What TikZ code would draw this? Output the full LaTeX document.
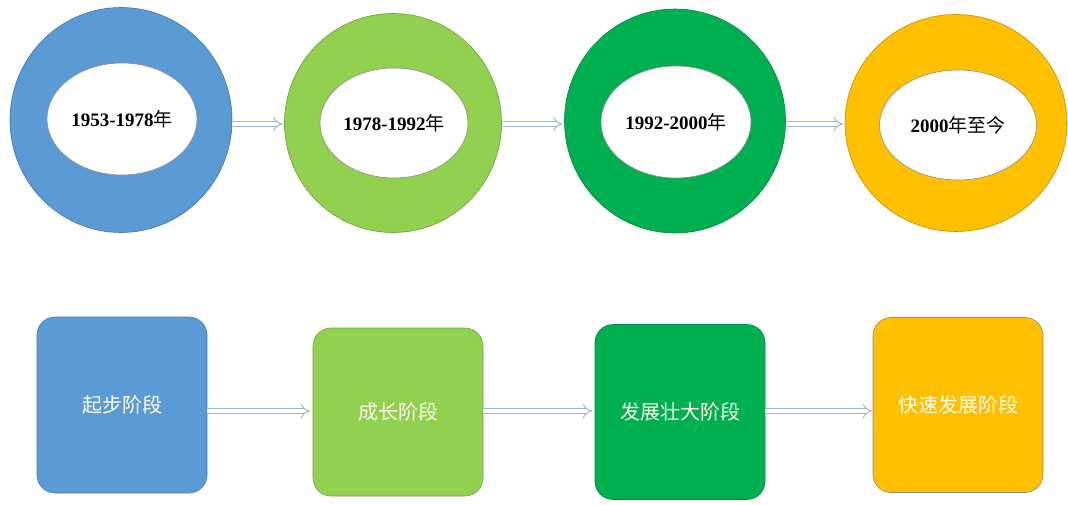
\documentclass[tikz,border=0pt]{standalone}
\usepackage{fontspec}
\setmainfont{Liberation Serif}
\newfontfamily\cjk{Noto Sans CJK SC}
\usetikzlibrary{shapes.geometric,arrows.meta}
\definecolor{cblue}{HTML}{5B9BD5}
\definecolor{clgreen}{HTML}{92D050}
\definecolor{cgreen}{HTML}{00B050}
\definecolor{cgold}{HTML}{FFC000}
\definecolor{carrow}{HTML}{9DB3D6}
\tikzset{
  ring/.style={ellipse,fill=#1,draw=#1!75!black,line width=0.6pt,inner sep=0pt,outer sep=0pt},
  hole/.style={ellipse,fill=white,draw=black!45,line width=0.6pt,inner sep=0pt,outer sep=0pt,font=\fontsize{19}{21}\selectfont\bfseries},
  stage/.style={rectangle,rounded corners=18pt,fill=#1,draw=#1!80!black,line width=0.6pt,inner sep=0pt,outer sep=0pt,minimum width=170pt,text=white!92!yellow,font=\fontsize{20}{22}\selectfont\cjk},
  flow/.style={draw=carrow,double=white,double distance=4pt,line width=0.9pt,-{Implies}},
}
\begin{document}
\begin{tikzpicture}[x=1pt,y=-1pt]
\useasboundingbox[fill=white] (0,0) rectangle (1068,504);
\coordinate (top) at (0,124);
\coordinate (bot) at (0,411);
% rings
\node[ring=cblue,minimum width=222pt,minimum height=225pt] (r1) at (121,120) {};
\node[ring=clgreen,minimum width=217pt,minimum height=219pt] (r2) at (393,123) {};
\node[ring=cgreen,minimum width=221pt,minimum height=224pt] (r3) at (675,121) {};
\node[ring=cgold,minimum width=222pt,minimum height=217pt] (r4) at (956,123) {};
\node[hole,minimum width=150pt,minimum height=112pt] (i1) at (122,119) {1953-1978{\cjk\mdseries 年}};
\node[hole,minimum width=148pt,minimum height=110pt] (i2) at (394,123) {1978-1992{\cjk\mdseries 年}};
\node[hole,minimum width=150pt,minimum height=112pt] (i3) at (676,122) {1992-2000{\cjk\mdseries 年}};
\node[hole,minimum width=157pt,minimum height=110pt] (i4) at (958,125) {2000{\cjk\mdseries 年至今}};
% boxes
\node[stage=cblue,minimum height=176pt] (b1) at (122,405) {\raisebox{-6pt}{起步阶段}};
\node[stage=clgreen,minimum height=168pt] (b2) at (398,412) {成长阶段};
\node[stage=cgreen,minimum height=175pt] (b3) at (680,412) {\raisebox{2pt}{发展壮大阶段}};
\node[stage=cgold,minimum height=175pt,draw=black!45] (b4) at (958,405) {\raisebox{-3pt}{快速发展阶段}};
% arrows
\draw[flow] ([xshift=1pt]r1.east |- top) -- ([xshift=-2pt]r2.west |- top);
\draw[flow] ([xshift=1pt]r2.east |- top) -- ([xshift=-2pt]r3.west |- top);
\draw[flow] ([xshift=1pt]r3.east |- top) -- ([xshift=-2pt]r4.west |- top);
\draw[flow] (b1.east |- bot) -- ([xshift=-3pt]b2.west |- bot);
\draw[flow] (b2.east |- bot) -- ([xshift=-3pt]b3.west |- bot);
\draw[flow] (b3.east |- bot) -- ([xshift=-1pt]b4.west |- bot);
\end{tikzpicture}
\end{document}
